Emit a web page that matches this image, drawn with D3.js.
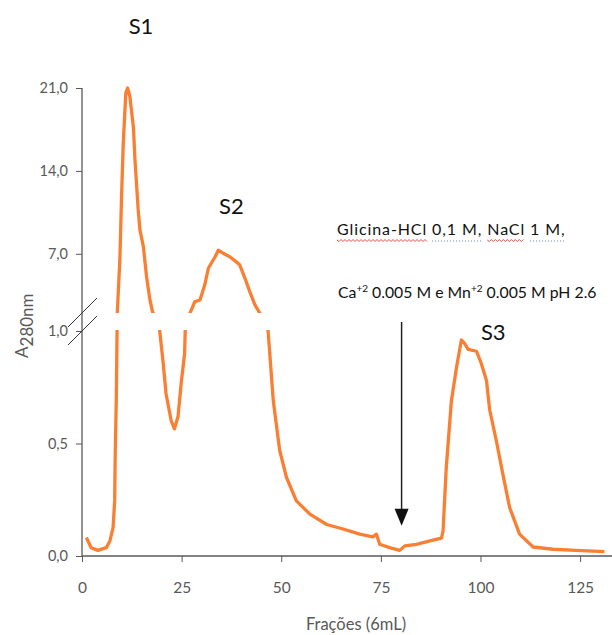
<!DOCTYPE html>
<html>
<head>
<meta charset="utf-8">
<script src="https://cdn.jsdelivr.net/npm/d3@7"></script>
<style>
  body { margin: 0; background: #fff; }
  text { font-family: Lato, "Open Sans", sans-serif; }
</style>
</head>
<body>
<svg id="chart"></svg>
<script>
// fracoes (6 mL) e absorbancia a 280 nm
const fractions = [1.1, 2.3, 4.0, 6.1, 7.0, 7.8, 8.2, 8.35, 8.6, 8.8, 8.85, 9.5, 9.95, 10.35, 11.0, 11.45,
  12.0, 12.9, 13.3, 14.1, 14.55, 15.4, 16.2, 17.05, 17.7, 19.5, 20.3, 21.1, 22.4, 23.2, 24.1, 24.9,
  25.75, 25.9, 27.1, 28.3, 29.6, 30.8, 31.7, 33.4, 34.2, 35.4, 37.1, 38.8, 39.6, 40.9, 42.1, 43.4,
  44.6, 46.7, 48.0, 49.6, 51.3, 53.8, 57.2, 61.4, 65.5, 69.7, 73.0, 73.9, 74.7, 77.2, 79.7, 81.0,
  83.9, 87.3, 90.2, 90.6, 91.4, 92.7, 94.0, 95.2, 96.0, 96.9, 99.0, 100.2, 101.5, 102.3, 104.0,
  105.6, 107.3, 109.8, 113.2, 118.2, 124.0, 131.1];
const absorbance = [0.082, 0.037, 0.025, 0.037, 0.067, 0.126, 0.245, 0.47, 0.69, 1.0, 2.0, 6.5, 12.1, 16.3, 20.6, 21.0,
  20.3, 17.7, 14.9, 10.7, 9.0, 7.6, 5.07, 3.1, 2.1, 1.0, 0.87, 0.72, 0.60, 0.565, 0.62, 0.77,
  0.90, 1.0, 2.0, 2.95, 3.1, 4.36, 5.78, 6.75, 7.3, 7.05, 6.75, 6.3, 6.05, 4.93, 3.8, 2.68,
  2.0, 1.0, 0.69, 0.47, 0.35, 0.245, 0.186, 0.14, 0.12, 0.097, 0.085, 0.097, 0.052, 0.037, 0.025, 0.045,
  0.052, 0.067, 0.079, 0.11, 0.39, 0.69, 0.84, 0.96, 0.945, 0.918, 0.91, 0.856, 0.78, 0.65, 0.51,
  0.365, 0.216, 0.097, 0.04, 0.03, 0.025, 0.019];

const xTicks = [0, 25, 50, 75, 100, 125];
const yTicksUpper = [7, 14, 21];
const yTicksLower = [0, 0.5, 1];

const peakNames = ["S1", "S2", "S3"];
const peakX = [14.8, 37.5, 103.2];
const peakY = [25.6, 10.4, 0.96];

const bufferLine1 = "Glicina-HCl 0,1 M, NaCl 1 M,";
const arrowFraction = 80.2;

const width = 612;
const height = 635;
const lineColor = "#f97f32";
const axisColor = "#595959";

const svg = d3.select("#chart")
  .attr("width", width)
  .attr("height", height);

// escalas: eixo x e eixo y partido em dois
const x = d3.scaleLinear().domain([0, 133]).range([82, 612]);
const yUp = d3.scaleLinear().domain([2, 21]).range([313, 88]);
const yLow = d3.scaleLinear().domain([0, 1]).range([556, 331]);

const fmt = v => d3.format(".1f")(v).replace(".", ",");

// clip para as duas partes do grafico
const defs = svg.append("defs");
defs.append("clipPath").attr("id", "clipUp")
  .append("rect").attr("x", 82).attr("y", 0).attr("width", 530).attr("height", yUp.range()[0]);
defs.append("clipPath").attr("id", "clipLow")
  .append("rect").attr("x", 82).attr("y", 330).attr("width", 530).attr("height", 230);

const pts = fractions.map((f, i) => [f, absorbance[i]]);

[["clipUp", yUp], ["clipLow", yLow]].forEach(([clip, yScale]) => {
  svg.append("path")
    .datum(pts)
    .attr("clip-path", `url(#${clip})`)
    .attr("fill", "none")
    .attr("stroke", lineColor)
    .attr("stroke-width", 3.3)
    .attr("stroke-linejoin", "round")
    .attr("d", d3.line().x(d => x(d[0])).y(d => yScale(d[1])));
});

// eixos
function styleAxis(g) {
  g.select(".domain").remove();
  g.selectAll(".tick line").attr("stroke", axisColor);
  g.selectAll(".tick text").attr("fill", axisColor).style("font-size", "14.5px");
}

svg.append("g")
  .attr("transform", "translate(82,0)")
  .call(d3.axisLeft(yUp).tickValues(yTicksUpper).tickSize(6).tickPadding(8).tickFormat(fmt))
  .call(styleAxis);

svg.append("g")
  .attr("transform", "translate(82,0)")
  .call(d3.axisLeft(yLow).tickValues(yTicksLower).tickSize(6).tickPadding(8).tickFormat(fmt))
  .call(styleAxis);

svg.append("line")
  .attr("x1", 82).attr("x2", 82)
  .attr("y1", yUp(21)).attr("y2", yLow(0))
  .attr("stroke", axisColor).attr("stroke-width", 1.3);

const xAxis = svg.append("g")
  .attr("transform", `translate(0,${yLow(0)})`)
  .call(d3.axisBottom(x).tickValues(xTicks).tickSize(6).tickPadding(20).tickSizeOuter(0))
  .call(styleAxis);
xAxis.selectAll(".tick text").style("font-size", "15.5px");

svg.append("line")
  .attr("x1", 82).attr("x2", 612)
  .attr("y1", yLow(0)).attr("y2", yLow(0))
  .attr("stroke", axisColor).attr("stroke-width", 1.3);

// marcas de quebra do eixo
[yUp(2), yLow(1)].forEach(yb => {
  svg.append("line")
    .attr("x1", 68).attr("y1", yb + 14)
    .attr("x2", 97).attr("y2", yb - 15)
    .attr("stroke", "#333").attr("stroke-width", 1);
});

// titulos dos eixos
svg.append("text")
  .attr("x", 356).attr("y", 630)
  .attr("text-anchor", "middle")
  .attr("fill", axisColor)
  .style("font-size", "16.5px")
  .text("Frações (6mL)");

const yTitle = svg.append("text")
  .attr("transform", "translate(28,358) rotate(-90)")
  .attr("fill", axisColor)
  .style("font-size", "17px");
yTitle.append("tspan").text("A");
yTitle.append("tspan").attr("dy", 5).text("280nm");

// rotulos dos picos
svg.selectAll(".peak")
  .data(peakNames)
  .join("text")
  .attr("class", "peak")
  .attr("x", (d, i) => x(peakX[i]))
  .attr("y", (d, i) => i < 2 ? yUp(peakY[i]) : yLow(peakY[i]))
  .attr("text-anchor", "middle")
  .attr("fill", "#111")
  .style("font-size", "22px")
  .text(d => d);

// anotacao do tampao de eluicao
const line1 = svg.append("text")
  .attr("x", 337).attr("y", 235)
  .attr("fill", "#111")
  .style("font-size", "16px")
  .style("letter-spacing", "0.9px")
  .text(bufferLine1);

const line2 = svg.append("text")
  .attr("x", 338).attr("y", 298)
  .attr("fill", "#111")
  .style("font-size", "15.8px");
line2.append("tspan").text("Ca");
line2.append("tspan").attr("dy", -6).style("font-size", "10px").text("+2");
line2.append("tspan").attr("dy", 6).text(" 0.005 M e Mn");
line2.append("tspan").attr("dy", -6).style("font-size", "10px").text("+2");
line2.append("tspan").attr("dy", 6).text(" 0.005 M pH 2.6");

// sublinhados do corretor (ondulado vermelho / pontilhado)
const node = line1.node();
function underline(start, end, wavy) {
  const x0 = node.getStartPositionOfChar(start).x;
  const x1 = node.getEndPositionOfChar(end - 1).x;
  const yl = 240;
  if (wavy) {
    let d = `M${x0},${yl}`;
    let k = 0;
    for (let xx = x0 + 2; xx <= x1; xx += 2) {
      d += `L${xx},${yl + (k % 2 === 0 ? 1.5 : -0.5)}`;
      k++;
    }
    svg.append("path").attr("d", d).attr("fill", "none")
      .attr("stroke", "#d83a3a").attr("stroke-width", 0.9);
  } else {
    svg.append("line").attr("x1", x0).attr("x2", x1).attr("y1", yl + 1).attr("y2", yl + 1)
      .attr("stroke", "#6a7aa8").attr("stroke-width", 1).attr("stroke-dasharray", "1,2");
  }
}
underline(0, 11, true);
underline(12, 18, false);
underline(19, 23, true);
underline(24, 28, false);

// seta
const ax = x(arrowFraction);
svg.append("line")
  .attr("x1", ax).attr("x2", ax)
  .attr("y1", yLow(1.04)).attr("y2", yLow(0.2))
  .attr("stroke", "#222").attr("stroke-width", 1.5);
svg.append("path")
  .attr("d", d3.line()([[ax - 7, yLow(0.21)], [ax + 7, yLow(0.21)], [ax, yLow(0.134)]]) + "Z")
  .attr("fill", "#111");
</script>
</body>
</html>
